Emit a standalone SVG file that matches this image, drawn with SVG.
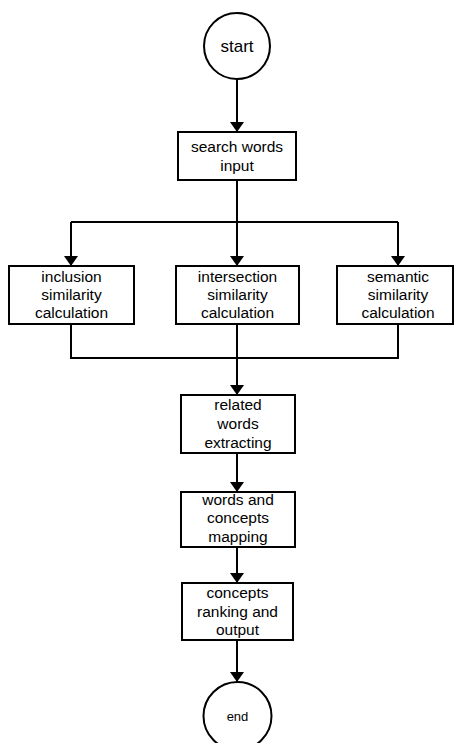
<svg xmlns="http://www.w3.org/2000/svg" width="455" height="743" viewBox="0 0 455 743">
<style>
.n{fill:#fff;stroke:#000;stroke-width:2}
.t{font-family:"Liberation Sans",Arial,sans-serif;font-size:15.5px;fill:#000;text-anchor:middle}
.c{fill:none;stroke:#000;stroke-width:2}
</style>
<defs>
<marker id="ah" viewBox="0 0 10 14" refX="10" refY="7" markerWidth="10" markerHeight="14" markerUnits="userSpaceOnUse" orient="auto">
<path d="M0,0 L10,7 L0,14 Z" fill="#000"/>
</marker>
</defs>
<rect width="455" height="743" fill="#fff"/>
<g id="connectors">
<path class="c" d="M237,79 V132" marker-end="url(#ah)"/>
<path class="c" d="M237,180 V222"/>
<path class="c" d="M71,222 H398"/>
<path class="c" d="M71,222 V266" marker-end="url(#ah)"/>
<path class="c" d="M237,222 V266" marker-end="url(#ah)"/>
<path class="c" d="M398,222 V266" marker-end="url(#ah)"/>
<path class="c" d="M71,324 V358 H398 V324"/>
<path class="c" d="M237,324 V395" marker-end="url(#ah)"/>
<path class="c" d="M237,453 V492" marker-end="url(#ah)"/>
<path class="c" d="M237,547 V583" marker-end="url(#ah)"/>
<path class="c" d="M237,640 V682" marker-end="url(#ah)"/>
</g>
<g id="start">
<circle class="n" cx="237" cy="46" r="33"/>
<text class="t" x="237" y="52" style="font-size:17px">start</text>
</g>
<g id="search">
<rect class="n" x="178" y="132" width="118" height="48"/>
<text class="t" x="237" y="152">search words</text>
<text class="t" x="237" y="171">input</text>
</g>
<g id="inclusion">
<rect class="n" x="9" y="266" width="125" height="58"/>
<text class="t" x="71.5" y="282">inclusion</text>
<text class="t" x="71.5" y="300">similarity</text>
<text class="t" x="71.5" y="318">calculation</text>
</g>
<g id="intersection">
<rect class="n" x="176" y="266" width="123" height="58"/>
<text class="t" x="237.5" y="282">intersection</text>
<text class="t" x="237.5" y="300">similarity</text>
<text class="t" x="237.5" y="318">calculation</text>
</g>
<g id="semantic">
<rect class="n" x="337" y="266" width="116" height="58"/>
<text class="t" x="398" y="282">semantic</text>
<text class="t" x="398" y="300">similarity</text>
<text class="t" x="398" y="318">calculation</text>
</g>
<g id="related">
<rect class="n" x="181" y="395" width="114" height="58"/>
<text class="t" x="238" y="410">related</text>
<text class="t" x="238" y="429">words</text>
<text class="t" x="238" y="448">extracting</text>
</g>
<g id="mapping">
<rect class="n" x="181" y="492" width="114" height="55"/>
<text class="t" x="238" y="505">words and</text>
<text class="t" x="238" y="523">concepts</text>
<text class="t" x="238" y="542">mapping</text>
</g>
<g id="ranking">
<rect class="n" x="182" y="583" width="111" height="57"/>
<text class="t" x="237.5" y="598">concepts</text>
<text class="t" x="237.5" y="617">ranking and</text>
<text class="t" x="237.5" y="635">output</text>
</g>
<g id="end">
<circle class="n" cx="237.5" cy="716" r="34"/>
<text class="t" x="237.5" y="721" style="font-size:13px">end</text>
</g>
</svg>
